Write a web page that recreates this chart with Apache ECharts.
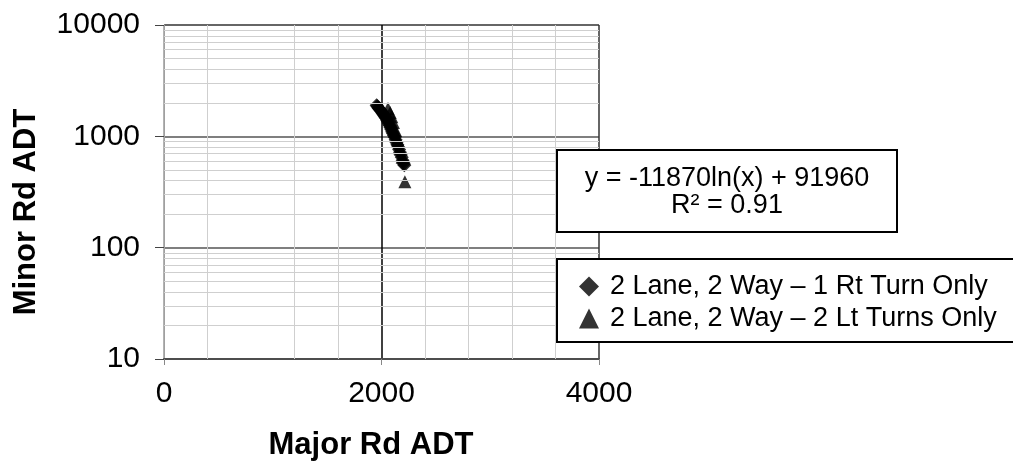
<!DOCTYPE html>
<html>
<head>
<meta charset="utf-8">
<script src="https://cdn.jsdelivr.net/npm/echarts@6/dist/echarts.min.js"></script>
<style>
html,body{margin:0;padding:0;background:#fff;overflow:hidden;}
#chart{width:1013px;height:466px;}
</style>
</head>
<body>
<div id="chart"></div>
<script>
// ---- data ----
var seriesNames = ['2 Lane, 2 Way \u2013 1 Rt Turn Only', '2 Lane, 2 Way \u2013 2 Lt Turns Only'];
var rtTurnMajor = [1955,1962,1970,1978,1986,1994,2002,2010,2018,2026,2034,2042,2050,2058,2066,2074,2082,2090,2098,2106,2114,2122,2130,2138,2146,2154,2162,2170,2178,2186,2194,2200,2206,2210];
var rtTurnMinor = [1900,1860,1810,1770,1730,1700,1660,1610,1570,1530,1490,1450,1400,1350,1300,1250,1200,1150,1100,1060,1020,980,930,880,840,800,760,720,680,650,610,585,565,550];
var ltTurnMajor = [2060,2080,2095,2110,2130,2150,2170,2190,2215];
var ltTurnMinor = [1780,1640,1500,1330,1130,930,780,650,390];
var xTicks = [0, 2000, 4000];
var yTicks = [10, 100, 1000, 10000];
var xMinorGrid = [400, 1200, 1600, 2400, 2800, 3200, 3600];
var yMinorGrid = [20,30,40,50,60,70,80,90,200,300,400,500,600,700,800,900,2000,3000,4000,5000,6000,7000,8000,9000];
var trendEquation = 'y = -11870ln(x) + 91960';
var trendR2 = 'R\u00B2 = 0.91';
var xTitle = 'Major Rd ADT';
var yTitle = 'Minor Rd ADT';

function pairs(xs, ys){ return xs.map(function(x,i){ return [x, ys[i]]; }); }

var FONT = 'Liberation Sans, Arial, Helvetica, sans-serif';
var chart = echarts.init(document.getElementById('chart'), null, {renderer:'canvas'});

var option = {
  backgroundColor: '#ffffff',
  animation: false,
  textStyle: { fontFamily: FONT },
  grid: { left: 164, top: 25, width: 435, height: 334, containLabel: false },
  xAxis: {
    type: 'value', min: xTicks[0], max: xTicks[xTicks.length-1], interval: 2000,
    name: xTitle, nameLocation: 'middle', nameGap: 71,
    nameTextStyle: { fontFamily: FONT, fontSize: 31, fontWeight: 'bold', color: '#000', padding: [0, 21, 0, 0] },
    axisLine: { show: true, onZero: false, lineStyle: { color: '#4d4d4d', width: 2 } },
    axisTick: { show: true, length: 6, lineStyle: { color: '#888', width: 1 } },
    axisLabel: { fontFamily: FONT, fontSize: 30, color: '#000', margin: 20, formatter: function(v){ return String(v); } },
    splitLine: { show: true, lineStyle: { color: ['#9a9a9a', '#000000', '#333333'], width: 1.5 } }
  },
  yAxis: {
    type: 'log', logBase: 10, min: yTicks[0], max: yTicks[yTicks.length-1],
    name: yTitle, nameLocation: 'middle', nameRotate: 90, nameGap: 122,
    nameTextStyle: { fontFamily: FONT, fontSize: 31, fontWeight: 'bold', color: '#000', padding: [0, 40, 0, 0] },
    axisLine: { show: true, lineStyle: { color: '#a0a0a0', width: 1 } },
    axisTick: { show: true, length: 9, lineStyle: { color: '#444', width: 1 } },
    axisLabel: { fontFamily: FONT, fontSize: 30, color: '#000', margin: 24, formatter: function(v){ return String(Math.round(v)); } },
    splitLine: { show: true, lineStyle: { color: ['#9a9a9a', '#555555', '#555555', '#333333'], width: 1.5 } }
  },
  legend: {
    orient: 'vertical', left: 557, top: 259, z: 20,
    data: seriesNames,
    itemWidth: 20, itemHeight: 20, itemGap: 5,
    padding: [14, 10, 10, 22],
    borderWidth: 0, backgroundColor: 'transparent',
    textStyle: { fontFamily: FONT, fontSize: 27, color: '#000', padding: [0, 0, 0, 6] }
  },
  graphic: [
    {
      type: 'group', x: 557, y: 150, z: 20,
      children: [
        { type: 'rect', z: 20, shape: { x: 0, y: 0, width: 340, height: 82 }, style: { fill: '#fff', stroke: '#000', lineWidth: 2 } },
        { type: 'text', z: 21, x: 170, y: 42, style: { text: trendEquation + '\n' + trendR2, font: '27px ' + FONT, fill: '#000', align: 'center', verticalAlign: 'middle', lineHeight: 27 } }
      ]
    },
    {
      type: 'group', x: 557, y: 259, z: 15,
      children: [
        { type: 'rect', z: 15, shape: { x: 0, y: 0, width: 520, height: 83 }, style: { fill: '#fff', lineWidth: 0 } },
        { type: 'polyline', z: 16, shape: { points: [[520, 0], [0, 0], [0, 83], [520, 83]] }, style: { fill: null, stroke: '#000', lineWidth: 2 } }
      ]
    }
  ],
  series: [
    {
      type: 'scatter', name: '__grid', data: [], z: 1, silent: true,
      markLine: {
        silent: true, symbol: ['none','none'], animation: false,
        label: { show: false },
        lineStyle: { type: 'solid', color: '#cfcfcf', width: 1 },
        data: xMinorGrid.map(function(v){ return { xAxis: v }; }).concat(yMinorGrid.map(function(v){ return { yAxis: v }; }))
      }
    },
    {
      type: 'scatter', name: seriesNames[0], data: pairs(rtTurnMajor, rtTurnMinor),
      symbol: 'diamond', symbolSize: 14, itemStyle: { color: '#000' }, z: 4
    },
    {
      type: 'scatter', name: seriesNames[1], data: pairs(ltTurnMajor, ltTurnMinor),
      symbol: 'triangle', symbolSize: 13, itemStyle: { color: '#000' }, z: 3
    }
  ]
};
chart.setOption(option);
</script>
</body>
</html>
